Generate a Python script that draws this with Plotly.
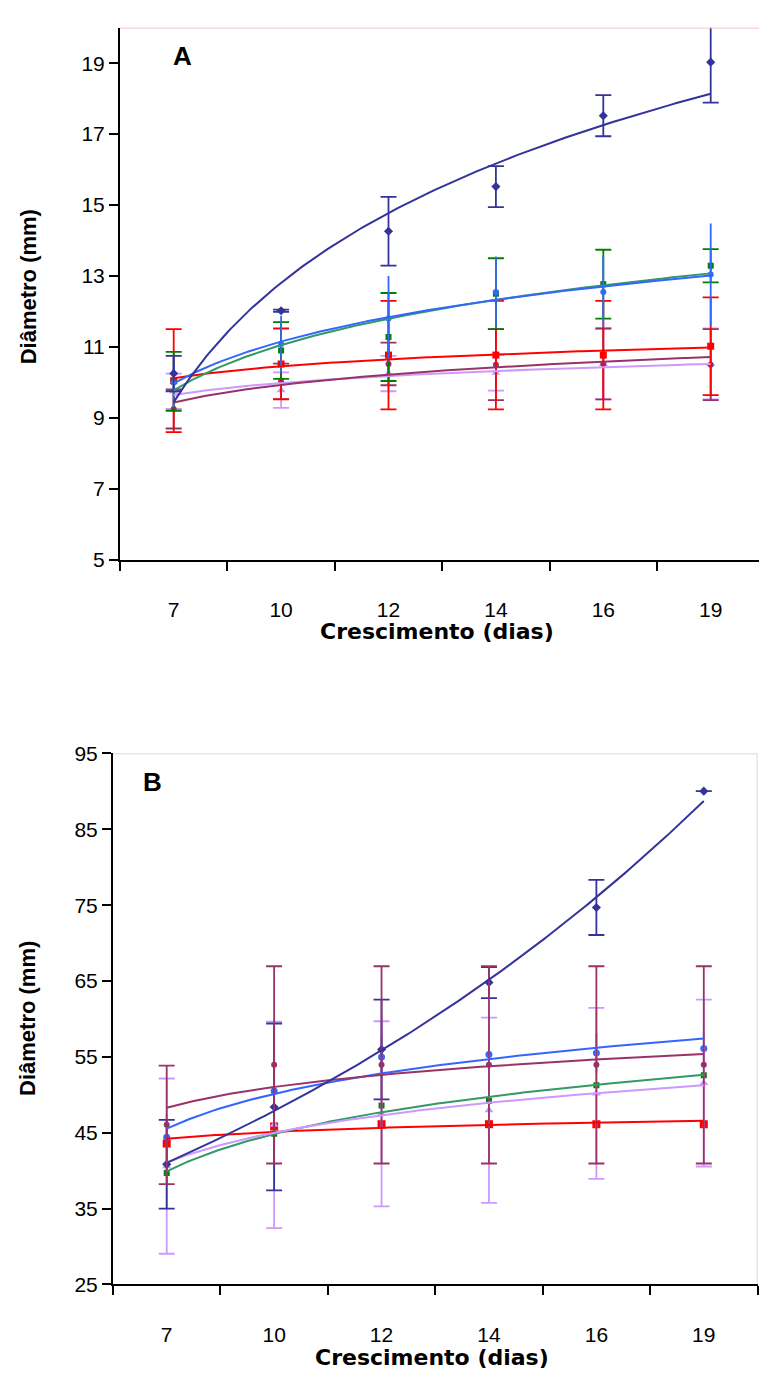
import numpy as np
import plotly.graph_objects as go

# ---------------- data ----------------
days = ["7", "10", "12", "14", "16", "19"]
pos = [1, 2, 3, 4, 5, 6]

# Panel A (diameter, mm)
a_navy = [10.25, 12.02, 14.26, 15.52, 17.52, 19.03]
a_navy_err = [0.5, 0.03, 0.97, 0.58, 0.58, 1.14]
a_red = [10.05, 10.52, 10.77, 10.77, 10.77, 11.02]
a_red_err = [1.45, 1.0, 1.53, 1.53, 1.53, 1.38]
a_green = [10.03, 10.9, 11.28, 12.5, 12.77, 13.29]
a_green_err = [0.83, 0.8, 1.24, 1.0, 0.97, 0.47]
a_blue = [10.0, 11.08, 11.8, 12.55, 12.55, 13.04]
a_blue_err = [0.7, 0.8, 1.2, 1.0, 1.0, 1.44]
a_purple = [9.25, 10.03, 10.52, 10.5, 10.52, 10.5]
a_purple_err = [0.55, 0.5, 0.6, 1.0, 1.0, 1.0]
a_lav = [9.75, 9.78, 10.25, 10.27, 10.52, 10.52]
a_lav_err = [0.5, 0.5, 0.5, 0.5, 1.0, 1.0]

# Panel B (diameter, mm)
b_navy = [40.85, 48.4, 55.98, 64.8, 74.7, 90.03]
b_navy_err = [5.85, 11.0, 6.57, 2.05, 3.63, 0.0]
b_red = [43.58, 45.83, 46.13, 46.13, 46.13, 46.13]
b_green = [39.69, 44.87, 48.59, 49.2, 51.27, 52.57]
b_blue = [44.4, 50.5, 55.0, 55.33, 55.5, 56.1]
b_blue_err = [3.0, 2.5, 2.7, 2.6, 2.6, 2.3]
b_purple = [46.04, 53.95, 53.95, 53.95, 53.95, 53.95]
b_purple_err = [7.8, 13.0, 13.0, 13.0, 13.0, 13.0]
b_lav = [40.6, 46.04, 47.5, 47.97, 50.19, 51.55]
b_lav_err = [11.55, 13.6, 12.2, 12.2, 11.28, 11.0]

y_ticks_a = [5, 7, 9, 11, 13, 15, 17, 19]
y_ticks_b = [25, 35, 45, 55, 65, 75, 85, 95]

NAVY = "#333399"
RED = "#FF0000"
GREEN = "#008000"
GREEN_LINE = "#339966"
BLUE = "#3366FF"
PURPLE = "#993366"
LAV = "#CC99FF"

W, H = 759, 1383
FONT = "Liberation Sans, Arial, sans-serif"
WIDE = "DejaVu Sans, Liberation Sans, sans-serif"

fig = go.Figure()


def trend(y, kind):
    xs = np.linspace(1, 6, 200)
    x = np.array(pos, dtype=float)
    y = np.array(y, dtype=float)
    if kind == "exp":
        c = np.polyfit(x, np.log(y), 1)
        return xs, np.exp(c[1] + c[0] * xs)
    c = np.polyfit(np.log(x), y, 1)
    return xs, c[0] * np.log(xs) + c[1]


def add(xa, ya, y, err, color, symbol, size, cap=8):
    e = None
    if err is not None:
        e = dict(type="data", array=err, visible=True, color=color,
                 thickness=1.8, width=cap)
    fig.add_trace(go.Scatter(x=pos, y=y, mode="markers", xaxis=xa, yaxis=ya,
                             marker=dict(symbol=symbol, size=size, color=color),
                             error_y=e, showlegend=False, cliponaxis=True))


def add_line(xa, ya, y, lcolor, kind="log"):
    xs, ys = trend(y, kind)
    fig.add_trace(go.Scatter(x=xs, y=ys, mode="lines", xaxis=xa, yaxis=ya,
                             line=dict(color=lcolor, width=2),
                             showlegend=False, hoverinfo="skip"))


# Panel A
add("x", "y", a_lav, a_lav_err, LAV, "triangle-up", 8)
add("x", "y", a_purple, a_purple_err, PURPLE, "circle", 6)
add("x", "y", a_red, a_red_err, RED, "square", 7)
add("x", "y", a_green, a_green_err, GREEN, "square", 6)
add("x", "y", a_blue, a_blue_err, BLUE, "circle", 6, cap=0)
add("x", "y", a_navy, a_navy_err, NAVY, "diamond", 7)
add_line("x", "y", a_lav, LAV)
add_line("x", "y", a_purple, PURPLE)
add_line("x", "y", a_red, RED)
add_line("x", "y", a_green, GREEN_LINE)
add_line("x", "y", a_blue, BLUE)
add_line("x", "y", a_navy, NAVY)

# Panel B
add("x2", "y2", b_red, None, RED, "square", 8)
add("x2", "y2", b_green, None, GREEN, "square", 6)
add("x2", "y2", b_blue, b_blue_err, BLUE, "circle", 7, cap=0)
add("x2", "y2", b_lav, b_lav_err, LAV, "triangle-up", 8)
add("x2", "y2", b_navy, b_navy_err, NAVY, "diamond", 7)
add("x2", "y2", b_purple, b_purple_err, PURPLE, "circle", 6)
add_line("x2", "y2", b_red, RED)
add_line("x2", "y2", b_green, GREEN_LINE)
add_line("x2", "y2", b_lav, LAV)
add_line("x2", "y2", b_blue, BLUE)
add_line("x2", "y2", b_purple, PURPLE)
add_line("x2", "y2", b_navy, NAVY, "exp")

PXU = 107.4  # pixels per category


def xax(left, right_px, rng_hi):
    return dict(domain=[left / W, right_px / W], range=[0.5, rng_hi],
                tickmode="array", tickvals=pos, ticktext=days,
                ticks="outside", ticklen=30, tickcolor="rgba(0,0,0,0)",
                showline=True, linecolor="black", linewidth=2,
                showgrid=False, zeroline=False, fixedrange=True,
                tickfont=dict(family=FONT, size=21, color="black"),
                minor=dict(tick0=0.5, dtick=1, ticks="outside", ticklen=9,
                           tickwidth=1.5, tickcolor="black", showgrid=False))


def yax(top, bottom, rng, tv):
    return dict(domain=[1 - bottom / H, 1 - top / H], range=rng,
                tickmode="array", tickvals=tv,
                ticks="outside", ticklen=9, tickwidth=1.5, tickcolor="black",
                showline=True, linecolor="black", linewidth=2,
                showgrid=False, zeroline=False, fixedrange=True,
                tickfont=dict(family=FONT, size=21, color="black"))


fig.update_layout(
    width=W, height=H, margin=dict(l=0, r=0, t=0, b=0),
    paper_bgcolor="white", plot_bgcolor="white",
    xaxis=dict(xax(120, W, 0.5 + (W - 120) / PXU), anchor="y"),
    yaxis=dict(yax(16, 557, [5, 20], y_ticks_a), anchor="x"),
    xaxis2=dict(xax(113, 757.5, 6.5), anchor="y2"),
    yaxis2=dict(yax(754, 1294, [25, 95], y_ticks_b), anchor="x2"),
)

# plot-area borders (light)
fig.add_shape(type="line", xref="x", yref="y", x0=0.5, x1=0.5 + (W - 120) / PXU,
              y0=20, y1=20, line=dict(color="#F2B3B3", width=1.5))
fig.add_shape(type="line", xref="x2", yref="y2", x0=0.5, x1=6.5,
              y0=95, y1=95, line=dict(color="#E2C8CE", width=1.5))
fig.add_shape(type="line", xref="x2", yref="y2", x0=6.5, x1=6.5,
              y0=25, y1=95, line=dict(color="#E2C8CE", width=1.5))

ann = []
xbold = dict(family=WIDE, size=22, color="black")
ybold = dict(family=FONT, size=22, color="black")
ann.append(dict(text="<b>Crescimento (dias)</b>", x=437 / W, y=1 - 630 / H,
                xref="paper", yref="paper", showarrow=False, font=xbold,
                xanchor="center", yanchor="middle"))
ann.append(dict(text="<b>Crescimento (dias)</b>", x=432 / W, y=1 - 1368 / H,
                xref="paper", yref="paper", showarrow=False, font=xbold,
                xanchor="center", yanchor="middle"))
ann.append(dict(text="<b>Diâmetro (mm)</b>", x=28 / W, y=1 - 280 / H,
                xref="paper", yref="paper", showarrow=False, font=ybold,
                textangle=-90, xanchor="center", yanchor="middle"))
ann.append(dict(text="<b>Diâmetro (mm)</b>", x=28 / W, y=1 - 1024 / H,
                xref="paper", yref="paper", showarrow=False, font=ybold,
                textangle=-90, xanchor="center", yanchor="middle"))
big = dict(family=FONT, size=26, color="black")
ann.append(dict(text="<b>A</b>", x=182 / W, y=1 - 45 / H, xref="paper",
                yref="paper", showarrow=False, font=big,
                xanchor="center", yanchor="middle"))
ann.append(dict(text="<b>B</b>", x=152 / W, y=1 - 783 / H, xref="paper",
                yref="paper", showarrow=False, font=big,
                xanchor="center", yanchor="middle"))
fig.update_layout(annotations=ann)

fig.write_html("out.html")
